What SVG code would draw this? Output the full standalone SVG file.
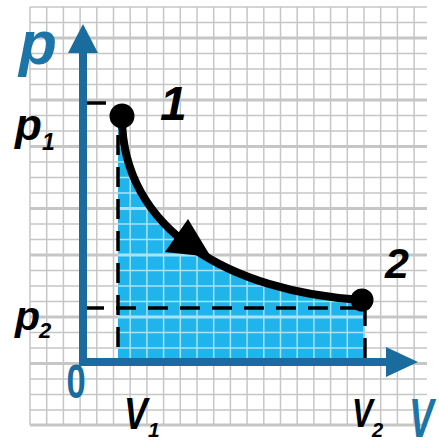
<svg xmlns="http://www.w3.org/2000/svg" xmlns:xlink="http://www.w3.org/1999/xlink" width="439" height="443" viewBox="0 0 439 443">
<style>
.lbl{font-family:"Liberation Sans",Arial,sans-serif;font-weight:bold;font-style:italic;fill:#000}
.blue{fill:#1d74a6}
.axis{stroke:#1a6c9e;stroke-width:8;fill:none}
.dash{stroke:#000;stroke-width:3.5;fill:none;stroke-dasharray:20 12}
.thin{stroke-width:1.5;fill:none}
.thick{stroke-width:3;fill:none}
</style>
<defs>
<g id="grid">
<path class="thin" d="M30,7V425M46.7,7V425M63.4,7V425M80.1,7V425M96.8,7V425M113.5,7V425M130.2,7V425M146.9,7V425M163.6,7V425M180.3,7V425M197,7V425M213.7,7V425M230.4,7V425M247.1,7V425M263.8,7V425M280.5,7V425M297.2,7V425M313.9,7V425M330.6,7V425M347.3,7V425M364,7V425M380.7,7V425M397.4,7V425M414.1,7V425"/>
<path class="thin" d="M30,7H427M30,22.5H427M30,53.5H427M30,69H427M30,84.5H427M30,115.5H427M30,131H427M30,162H427M30,177.5H427M30,193H427M30,224H427M30,239.5H427M30,270.5H427M30,286H427M30,301.5H427M30,332.5H427M30,348H427M30,379H427M30,394.5H427M30,410H427"/>
<path class="thick" d="M30,38H427M30,100H427M30,146.5H427M30,208.5H427M30,255H427M30,317H427M30,363.5H427M30,425H427"/>
</g>
<clipPath id="areaClip"><path d="M118,362L118,128L122,117C122,230 230,292 362,300L365,300L365,362Z"/></clipPath>
</defs>
<rect width="439" height="443" fill="#fff"/>
<use xlink:href="#grid" stroke="#c6c6c6"/>
<g id="area">
<path d="M118,362L118,128L122,117C122,230 230,292 362,300L365,300L365,362Z" fill="#20b4ec"/>
<use xlink:href="#grid" stroke="#a8e2f7" clip-path="url(#areaClip)"/>
</g>
<g id="connectors">
<path class="dash" d="M118,135V362"/>
<path class="dash" d="M84,308H362"/>
<path class="dash" d="M365,306V362" stroke-dasharray="18 8"/>
<path d="M86,103H106" stroke="#000" stroke-width="3.5"/>
<path d="M122,117C122,230 230,292 362,300" stroke="#000" stroke-width="8" fill="none"/>
<polygon points="188,219 165,252 211,257" fill="#000"/>
</g>
<g id="axes">
<path class="axis" d="M83,50V366"/>
<path class="axis" d="M79,362H390"/>
<polygon points="83,24 68,53 98,53" fill="#1a6c9e"/>
<polygon points="418,362 386,347 386,377" fill="#1a6c9e"/>
</g>
<g id="point1"><circle cx="122" cy="116" r="12.5" fill="#000"/><text class="lbl" x="160" y="120" font-size="48">1</text></g>
<g id="point2"><circle cx="362" cy="300" r="11.5" fill="#000"/><text class="lbl" x="385" y="278" font-size="43">2</text></g>
<g id="labels">
<text class="lbl blue" x="19" y="64" font-size="62">p</text>
<g transform="translate(409,437) scale(0.66,1)"><text class="lbl blue" x="0" y="0" font-size="56">V</text></g>
<text x="0" y="0" font-size="48" font-weight="bold" font-family="'Liberation Sans',Arial,sans-serif" fill="#1a6c9e" text-anchor="middle" transform="translate(76,398) scale(0.72,1)">0</text>
<text class="lbl" x="15" y="140" font-size="44">p</text>
<text class="lbl" x="42" y="150" font-size="23">1</text>
<text class="lbl" x="15" y="330" font-size="41">p</text>
<text class="lbl" x="39" y="338" font-size="22">2</text>
<g transform="translate(124,429) scale(0.8,1)"><text class="lbl" x="0" y="0" font-size="44">V</text></g>
<text class="lbl" x="148" y="437" font-size="21">1</text>
<g transform="translate(352,427) scale(0.78,1)"><text class="lbl" x="0" y="0" font-size="40">V</text></g>
<text class="lbl" x="372" y="437" font-size="20">2</text>
</g>
</svg>
